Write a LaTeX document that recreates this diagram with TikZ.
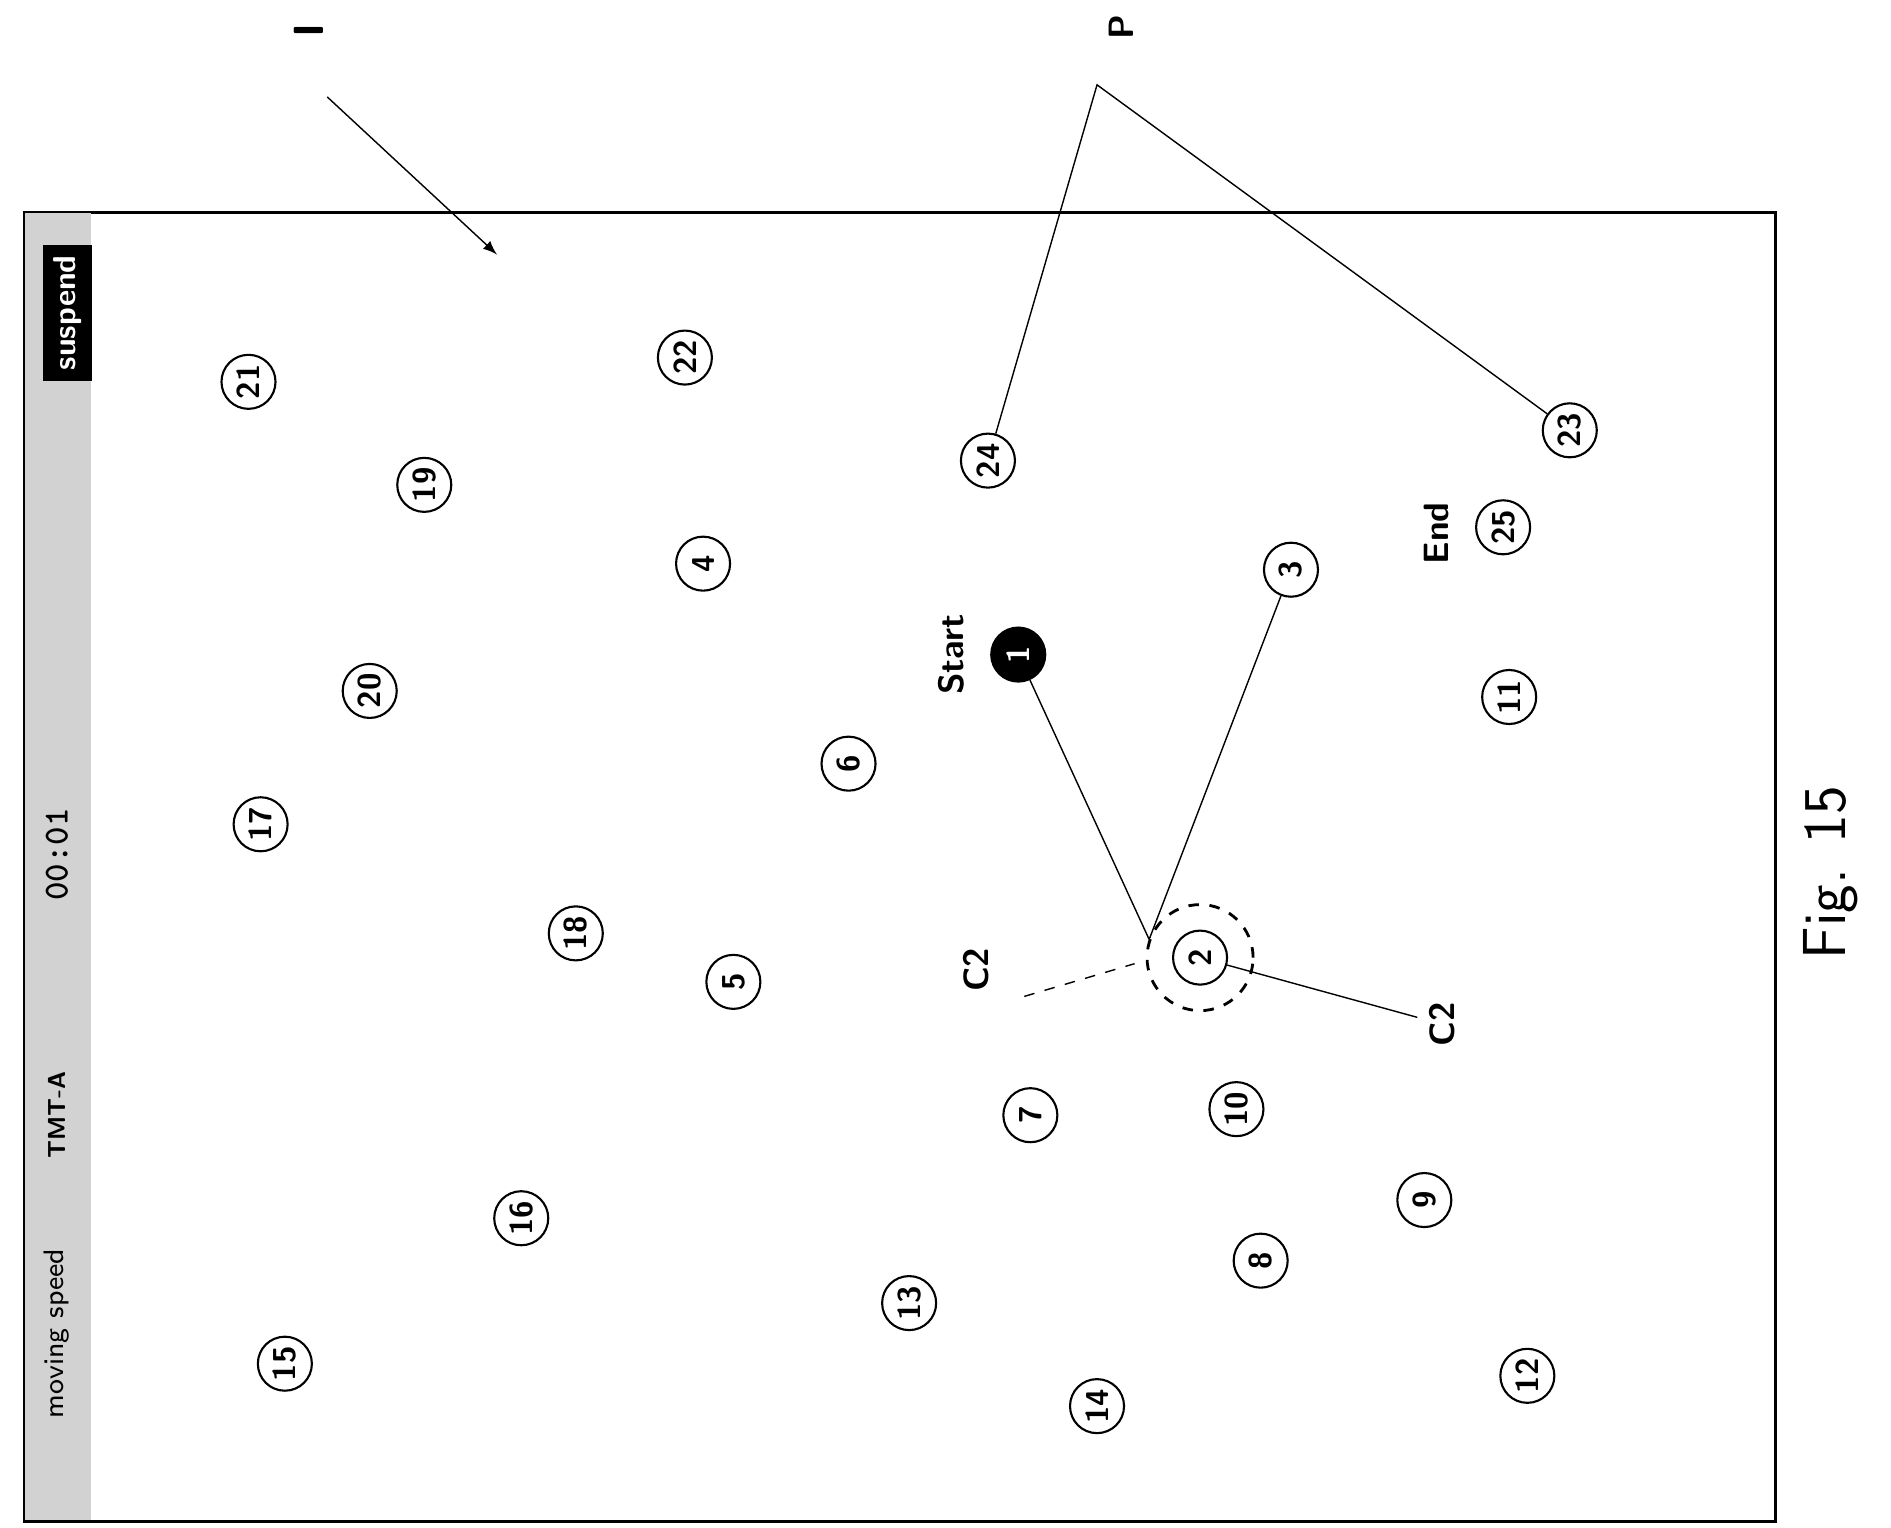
\documentclass[tikz,border=0pt]{standalone}
\usetikzlibrary{arrows}
\begin{document}
\begin{tikzpicture}[x=0.01212cm,y=-0.01212cm,
  dot/.style={draw,semithick,circle,minimum size=0.54cm,inner sep=0pt,font=\sffamily\small\bfseries,rotate=90},
  lab/.style={font=\sffamily\bfseries,rotate=90}]
\useasboundingbox (0,0) rectangle (1560,1260);
% frame and bar
\draw[thick] (20,175) rectangle (1465,1255);
\fill[gray!35] (21,176) rectangle (75,1254);
\node[font=\sffamily\footnotesize,rotate=90] (speed) at (47,1100) {moving speed};
\node[font=\sffamily\scriptsize\bfseries,rotate=90] (tmt) at (47,920) {TMT-A};
\node[font=\ttfamily\bfseries,rotate=90] (time) at (47,705) {00:01};
\node[fill=black,text=white,font=\sffamily\small\bfseries,rotate=90,inner sep=3pt] (susp) at (56,258) {suspend};
% targets
\foreach \n/\x/\y in {21/205/315,22/565/295,19/350/400,24/815/380,23/1295/355,4/580/465,
  3/1065/470,25/1240/435,20/305/570,11/1245/575,6/700/630,17/215/680,18/475/770,
  2/990/790,5/605/810,7/850/920,10/1020/915,16/430/1005,9/1175/990,8/1040/1040,
  13/750/1075,15/235/1125,14/905/1160,12/1260/1135}
  \node[dot] (t\n) at (\x,\y) {\n};
\node[dot,fill=black,text=white] (t1) at (840,540) {1};
\node[lab] (start) at (785,540) {Start};
\node[lab] (end) at (1185,440) {End};
\draw[dashed,thick] (t2) circle (0.53cm);
\coordinate (c2in) at (948,775);
\draw (t1) -- (c2in);
\draw (t3) -- (c2in);
% labels
\node[lab] (c2a) at (805,800) {C2};
\node[lab] (c2b) at (1190,845) {C2};
\coordinate (ring) at (936,795);
\coordinate (c2end) at (845,822);
\draw[dashed] (c2end) -- (ring);
\draw (c2b) -- (t2);
\node[lab,font=\sffamily\bfseries\large] (I) at (255,25) {I};
\coordinate (ia) at (270,80);
\coordinate (ib) at (410,210);
\draw[-latex] (ia) -- (ib);
\node[lab] (P) at (925,22) {P};
\coordinate (pj) at (905,70);
\draw (t24) -- (pj) -- (t23);
\node[font=\sffamily\LARGE,rotate=90] (fig) at (1510,720) {Fig. 15};
\end{tikzpicture}
\end{document}
